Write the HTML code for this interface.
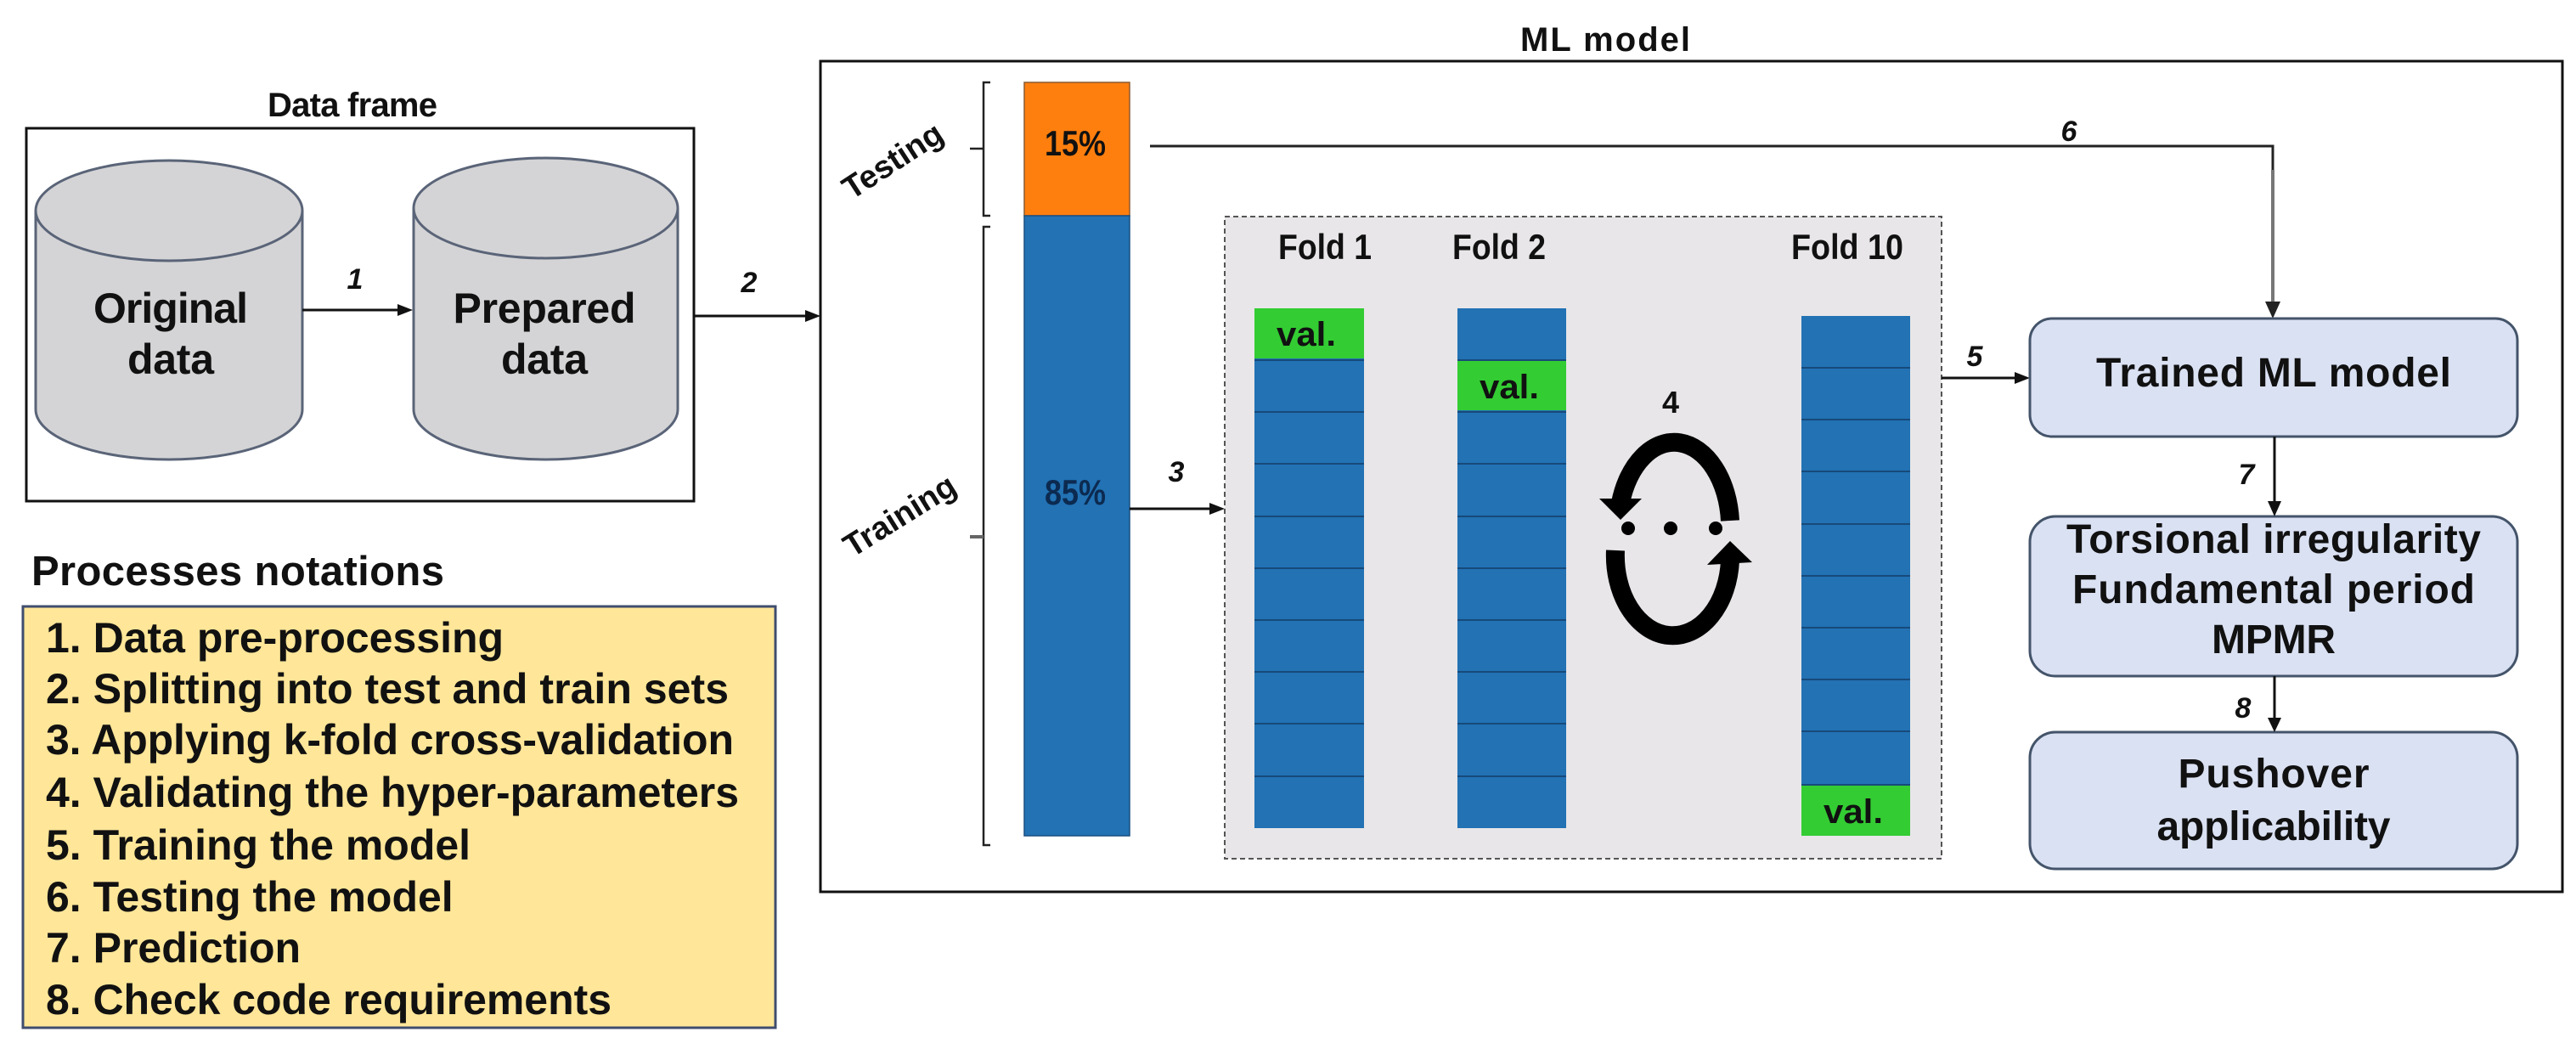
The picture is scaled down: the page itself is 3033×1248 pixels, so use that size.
<!DOCTYPE html>
<html><head><meta charset="utf-8"><style>
html,body{margin:0;padding:0;background:#fff;}
svg{display:block;}
text{font-family:"Liberation Sans",Arial,sans-serif;font-weight:bold;fill:#111;}
</style></head><body>
<svg width="3033" height="1248" viewBox="0 0 3033 1248" xmlns="http://www.w3.org/2000/svg">

<!-- Data frame -->
<text x="415" y="137" font-size="40" text-anchor="middle" textLength="200">Data frame</text>
<rect x="31" y="151" width="786" height="439" fill="#fff" stroke="#111" stroke-width="3"/>

<g stroke="#5a6478" stroke-width="3" fill="#d4d4d6">
<path d="M42 248 L42 482 A157 59 0 0 0 356 482 L356 248"/>
<ellipse cx="199" cy="248" rx="157" ry="59"/>
<path d="M487 245 L487 482 A155.5 59 0 0 0 798 482 L798 245"/>
<ellipse cx="642.5" cy="245" rx="155.5" ry="59"/>
</g>
<g font-size="50" text-anchor="middle">
<text x="201" y="380" textLength="182">Original</text>
<text x="201" y="440" textLength="102">data</text>
<text x="641" y="380" textLength="215">Prepared</text>
<text x="641" y="440" textLength="102">data</text>
</g>

<line x1="356" y1="365" x2="470" y2="365" stroke="#111" stroke-width="3"/>
<polygon points="486,365 468,358 468,372" fill="#111"/>
<text x="418" y="340" font-size="34" font-style="italic" text-anchor="middle">1</text>
<line x1="817" y1="372" x2="948" y2="372" stroke="#111" stroke-width="3"/>
<polygon points="966,372 948,365 948,379" fill="#111"/>
<text x="882" y="344" font-size="34" font-style="italic" text-anchor="middle">2</text>

<text x="37" y="689" font-size="49" textLength="486">Processes notations</text>
<rect x="27" y="714" width="886" height="496" fill="#ffe699" stroke="#3f4d6e" stroke-width="3"/>
<g font-size="50">
<text x="54" y="768">1. Data pre-processing</text>
<text x="54" y="828" textLength="804">2. Splitting into test and train sets</text>
<text x="54" y="888" textLength="810">3. Applying  k-fold cross-validation</text>
<text x="54" y="950" textLength="816">4. Validating the hyper-parameters</text>
<text x="54" y="1012">5. Training the model</text>
<text x="54" y="1073">6. Testing the model</text>
<text x="54" y="1133">7. Prediction</text>
<text x="54" y="1194" textLength="666">8. Check code requirements</text>
</g>

<text x="1890" y="60" font-size="40" text-anchor="middle" textLength="200">ML model</text>
<rect x="966" y="72" width="2051" height="978" fill="#fff" stroke="#111" stroke-width="3"/>

<g stroke="#222" stroke-width="2.5" fill="none">
<path d="M1166 97 L1158 97 L1158 254 L1166 254"/>
<line x1="1142" y1="175" x2="1158" y2="175"/>
<path d="M1166 267 L1158 267 L1158 995 L1166 995"/>
<line x1="1142" y1="632" x2="1158" y2="632" stroke="#666" stroke-width="4"/>
</g>
<text transform="translate(1058,200) rotate(-33)" font-size="38" text-anchor="middle">Testing</text>
<text transform="translate(1066,618) rotate(-32)" font-size="38" text-anchor="middle">Training</text>

<rect x="1206" y="97" width="124" height="157" fill="#ff7f0e" stroke="#8a5a30" stroke-width="1.5"/>
<rect x="1206" y="254" width="124" height="730" fill="#2272b4" stroke="#1a4f80" stroke-width="1.5"/>
<text x="1266" y="183" font-size="42" text-anchor="middle" textLength="72" lengthAdjust="spacingAndGlyphs">15%</text>
<text x="1266" y="594" font-size="42" text-anchor="middle" textLength="72" lengthAdjust="spacingAndGlyphs" style="fill:#0c2a50">85%</text>

<polyline points="1354,172 2676,172 2676,355" fill="none" stroke="#222" stroke-width="3"/>
<line x1="2676" y1="200" x2="2676" y2="355" stroke="#777" stroke-width="4"/>
<polygon points="2676,375 2667,355 2685,355" fill="#222"/>
<text x="2436" y="166" font-size="34" font-style="italic" text-anchor="middle">6</text>

<line x1="1330" y1="599" x2="1425" y2="599" stroke="#111" stroke-width="3"/>
<polygon points="1442,599 1424,592 1424,606" fill="#111"/>
<text x="1385" y="567" font-size="34" font-style="italic" text-anchor="middle">3</text>

<rect x="1442" y="255" width="844" height="756" fill="#e8e6e8" stroke="#555" stroke-width="2" stroke-dasharray="6,4"/>
<g font-size="42" text-anchor="middle">
<text x="1560" y="305" textLength="110" lengthAdjust="spacingAndGlyphs">Fold 1</text>
<text x="1765" y="305" textLength="110" lengthAdjust="spacingAndGlyphs">Fold 2</text>
<text x="2175" y="305" textLength="132" lengthAdjust="spacingAndGlyphs">Fold 10</text>
</g>

<rect x="1477" y="363" width="129" height="612" fill="#2272b4"/>
<rect x="1477" y="363" width="129" height="59" fill="#33cc33"/>
<rect x="1716" y="363" width="128" height="612" fill="#2272b4"/>
<rect x="1716" y="425" width="128" height="58" fill="#33cc33"/>
<rect x="2121" y="372" width="128" height="612" fill="#2272b4"/>
<rect x="2121" y="924" width="128" height="60" fill="#33cc33"/>
<g stroke="#174a7a" stroke-width="2">
<line x1="1477" y1="424" x2="1606" y2="424"/><line x1="1477" y1="485" x2="1606" y2="485"/><line x1="1477" y1="546" x2="1606" y2="546"/><line x1="1477" y1="608" x2="1606" y2="608"/><line x1="1477" y1="669" x2="1606" y2="669"/><line x1="1477" y1="730" x2="1606" y2="730"/><line x1="1477" y1="791" x2="1606" y2="791"/><line x1="1477" y1="852" x2="1606" y2="852"/><line x1="1477" y1="914" x2="1606" y2="914"/>
<line x1="1716" y1="424" x2="1844" y2="424"/><line x1="1716" y1="485" x2="1844" y2="485"/><line x1="1716" y1="546" x2="1844" y2="546"/><line x1="1716" y1="608" x2="1844" y2="608"/><line x1="1716" y1="669" x2="1844" y2="669"/><line x1="1716" y1="730" x2="1844" y2="730"/><line x1="1716" y1="791" x2="1844" y2="791"/><line x1="1716" y1="852" x2="1844" y2="852"/><line x1="1716" y1="914" x2="1844" y2="914"/>
<line x1="2121" y1="433" x2="2249" y2="433"/><line x1="2121" y1="494" x2="2249" y2="494"/><line x1="2121" y1="555" x2="2249" y2="555"/><line x1="2121" y1="617" x2="2249" y2="617"/><line x1="2121" y1="678" x2="2249" y2="678"/><line x1="2121" y1="739" x2="2249" y2="739"/><line x1="2121" y1="800" x2="2249" y2="800"/><line x1="2121" y1="861" x2="2249" y2="861"/><line x1="2121" y1="924" x2="2249" y2="924"/>
</g>
<g font-size="40" text-anchor="middle">
<text x="1538" y="407" textLength="70" lengthAdjust="spacingAndGlyphs">val.</text>
<text x="1777" y="469" textLength="70" lengthAdjust="spacingAndGlyphs">val.</text>
<text x="2182" y="969" textLength="70" lengthAdjust="spacingAndGlyphs">val.</text>
</g>

<text x="1967" y="486" font-size="36" text-anchor="middle">4</text>
<path d="M2037 613 A66 100 0 0 0 1908 592" fill="none" stroke="#000" stroke-width="22"/>
<polygon points="1883,587 1933,587 1908,612" fill="#000"/>
<path d="M1902 648 A66 92 0 0 0 2037 660" fill="none" stroke="#000" stroke-width="22"/>
<polygon points="2010,665 2063,662 2037,637" fill="#000"/>
<circle cx="1917" cy="622" r="8" fill="#000"/>
<circle cx="1967" cy="622" r="8" fill="#000"/>
<circle cx="2020" cy="622" r="8" fill="#000"/>

<line x1="2286" y1="445" x2="2372" y2="445" stroke="#111" stroke-width="3"/>
<polygon points="2390,445 2372,438 2372,452" fill="#111"/>
<text x="2325" y="431" font-size="34" font-style="italic" text-anchor="middle">5</text>

<g fill="#dae1f3" stroke="#44546a" stroke-width="3">
<rect x="2390" y="375" width="574" height="139" rx="26"/>
<rect x="2390" y="608" width="574" height="188" rx="30"/>
<rect x="2390" y="862" width="574" height="161" rx="30"/>
</g>
<text x="2677" y="455" font-size="48" text-anchor="middle" textLength="418">Trained ML model</text>
<text x="2677" y="651" font-size="48" text-anchor="middle" textLength="488">Torsional irregularity</text>
<text x="2677" y="710" font-size="48" text-anchor="middle" textLength="474">Fundamental period</text>
<text x="2677" y="769" font-size="48" text-anchor="middle" textLength="146">MPMR</text>
<text x="2677" y="927" font-size="48" text-anchor="middle" textLength="225">Pushover</text>
<text x="2677" y="989" font-size="48" text-anchor="middle" textLength="275">applicability</text>

<line x1="2678" y1="514" x2="2678" y2="590" stroke="#111" stroke-width="3"/>
<polygon points="2678,608 2670,590 2686,590" fill="#111"/>
<text x="2645" y="570" font-size="34" font-style="italic" text-anchor="middle">7</text>
<line x1="2678" y1="796" x2="2678" y2="846" stroke="#111" stroke-width="3"/>
<polygon points="2678,862 2670,845 2686,845" fill="#111"/>
<text x="2641" y="845" font-size="34" font-style="italic" text-anchor="middle">8</text>
</svg>
</body></html>
